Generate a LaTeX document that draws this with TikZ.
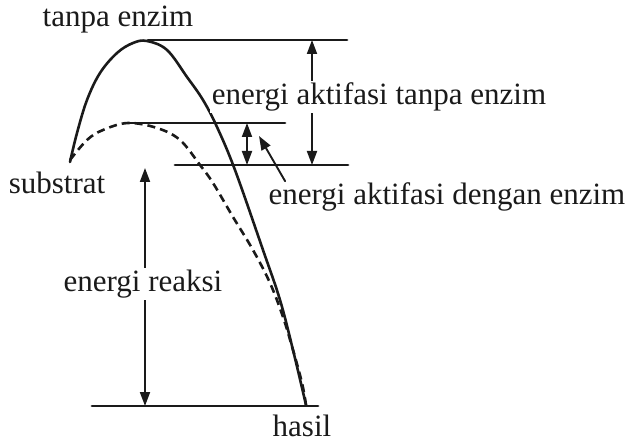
\documentclass[tikz,border=0pt]{standalone}
\usepackage{fontspec}
\setmainfont{Liberation Serif}
\usetikzlibrary{arrows.meta,positioning}
\definecolor{ekInk}{HTML}{1A1A1A}
\tikzset{
  ek diagram/.style={font=\fontsize{31}{37}\selectfont, text=ekInk,
    line cap=round, line join=round},
  ek level/.style={draw=ekInk, line width=2.8pt},
  ek curve/.style={draw=ekInk, line width=2.6pt},
  ek enzyme/.style={ek curve, line cap=butt, dash pattern=on 8pt off 5pt},
  ek arrow/.style={{Triangle[length=14pt,width=10pt]}-{Triangle[length=14pt,width=10pt]},
    draw=ekInk, line width=1.9pt},
  ek pointer/.style={-{Triangle[length=14pt,width=10pt]}, draw=ekInk, line width=1.9pt},
  ek label/.style={inner sep=2pt, fill=white}
}
\begin{document}
\begin{tikzpicture}[ek diagram,x=1pt,y=1pt]
\useasboundingbox (0,0) rectangle (628,442);
% levels
\coordinate (peakA) at (148,402);
\coordinate (topEnd) at (347,402);
\coordinate (peakB) at (128,319);
\coordinate (midEnd) at (285,319);
\coordinate (subStart) at (175,277);
\coordinate (subEnd) at (348,277);
\coordinate (prodStart) at (92,36);
\coordinate (prodEnd) at (318,36);
% curves
\draw[ek curve] plot[smooth,tension=0.6] coordinates {(70,280) (77,309) (87,342) (100,369) (117,389)
  (133,399) (147,401) (167,392) (187,365) (203,342) (217,315) (235,272) (263,192) (280,142)
  (293,92) (306,37)};
\draw[ek enzyme] plot[smooth,tension=0.6] coordinates {(70,282) (87,302) (103,312) (128,319)
  (157,314) (180,302) (200,277) (213,259) (233,225) (253,192) (270,159) (283,125) (293,92)
  (302,59) (306,37)};
\draw[ek level] (peakA) -- (topEnd);
\draw[ek level] (peakB) -- (midEnd);
\draw[ek level] (subStart) -- (subEnd);
\draw[ek level] (prodStart) -- (prodEnd);
% arrows
\coordinate (eaTop) at (312,402);
\coordinate (eaBot) at (312,277);
\coordinate (ebTop) at (247,319);
\coordinate (ebBot) at (247,277);
\coordinate (erTop) at (145,274);
\coordinate (erBot) at (145,36);
\draw[ek arrow] (eaTop) -- (eaBot);
\draw[ek arrow] (ebTop) -- (ebBot);
\draw[ek arrow] (erTop) -- (erBot);
% labels
\node (tanpa) at (118,422) {tanpa enzim};
\node (substrat) at (57,259) {substrat};
\node (hasil) at (302,16) {hasil};
\node[ek label] (lblTanpa) at (379,345) {energi aktifasi tanpa enzim};
\node[ek label] (lblReaksi) at (143,158) {energi reaksi};
\node (lblDengan) at (447,245) {energi aktifasi dengan enzim};
\coordinate (ptrTip) at (259,306);
\draw[ek pointer] ([xshift=20pt,yshift=-2pt]lblDengan.north west) -- (ptrTip);
\end{tikzpicture}
\end{document}
